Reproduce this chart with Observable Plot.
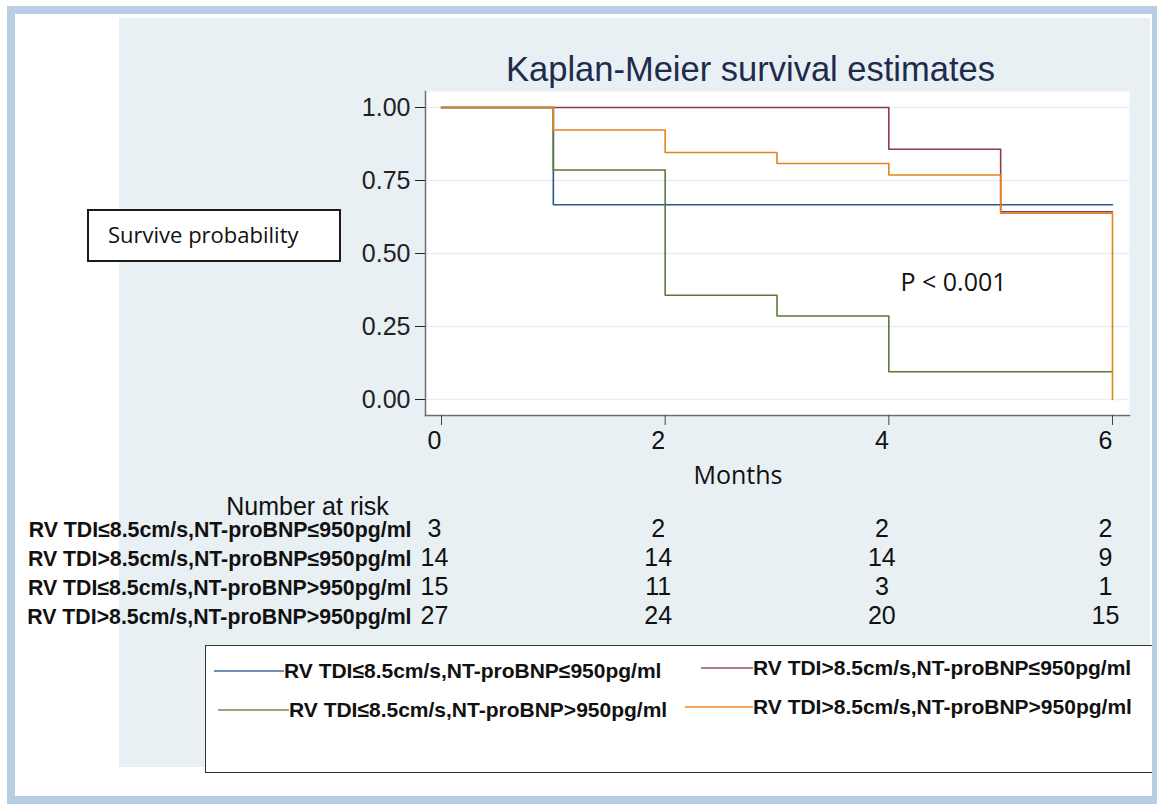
<!DOCTYPE html>
<html><head><meta charset="utf-8">
<script src="https://cdn.jsdelivr.net/npm/d3@7"></script>
<script src="https://cdn.jsdelivr.net/npm/@observablehq/plot@0.6"></script>
<style>
html,body{margin:0;padding:0;background:#fff;}
#page{position:relative;width:1157px;height:805px;overflow:hidden;font-family:"Liberation Sans",Arial,sans-serif;}
#panel{position:absolute;left:119px;top:18px;width:1031px;height:749px;background:#e8f0f3;}
#chart{position:absolute;left:0;top:0;}
#ybox{position:absolute;left:87px;top:209px;width:254px;height:53px;box-sizing:border-box;border:2px solid #1a1a1a;background:#fff;font-family:"Open Sans",sans-serif;font-size:22px;line-height:47px;padding-left:19px;color:#111;}
#legend{position:absolute;left:205px;top:645px;width:960px;height:128px;background:#fff;border:1.5px solid #333;box-sizing:border-box;}
.li{position:absolute;font-weight:bold;font-size:21px;color:#111;white-space:nowrap;line-height:24px;}
.sw{position:absolute;height:2px;}
#border{position:absolute;left:7px;top:6px;width:1153px;height:798px;border:8px solid #b9cde4;box-sizing:border-box;}
</style></head>
<body><div id="page">
<div id="panel"></div>
<div id="chart"></div>
<div id="ybox">Survive probability</div>
<div id="legend"></div>
<div id="border"></div>
</div>
<script>
// ---- data ----
const groups = [
  "RV TDI≤8.5cm/s,NT-proBNP≤950pg/ml",
  "RV TDI>8.5cm/s,NT-proBNP≤950pg/ml",
  "RV TDI≤8.5cm/s,NT-proBNP>950pg/ml",
  "RV TDI>8.5cm/s,NT-proBNP>950pg/ml"
];
const colors = ["#2b5b8c", "#8e3b48", "#5a7b35", "#e8821e"];
const time1 = [0, 1, 6];
const surv1 = [1, 0.667, 0.667];
const time2 = [0, 4, 5, 6];
const surv2 = [1, 0.857, 0.643, 0.643];
const time3 = [0, 1, 2, 3, 4, 6];
const surv3 = [1, 0.786, 0.357, 0.286, 0.095, 0.095];
const time4 = [0, 1, 2, 3, 4, 5, 6, 6];
const surv4 = [1, 0.923, 0.846, 0.808, 0.769, 0.638, 0.638, 0];
const riskTimes = [0, 2, 4, 6];
const risk1 = [3, 2, 2, 2];
const risk2 = [14, 14, 14, 9];
const risk3 = [15, 11, 3, 1];
const risk4 = [27, 24, 20, 15];
const xTicks = [0, 2, 4, 6];
const yTicks = [0, 0.25, 0.5, 0.75, 1];
const title = "Kaplan-Meier survival estimates";
const xLabel = "Months";
const pText = "P < 0.001";
const riskTitle = "Number at risk";

// ---- build tables ----
const times = [time1, time2, time3, time4];
const survs = [surv1, surv2, surv3, surv4];
const risks = [risk1, risk2, risk3, risk4];
const curves = groups.flatMap((g, i) => times[i].map((t, j) => ({group: g, time: t, surv: survs[i][j]})));

const W = 1157, H = 805, L = 425, R = 1129, T = 91, B = 415;
const rowY = [536, 565, 594, 623];
const note = (s, x, y, o = {}) => Plot.text([s], {text: d => d, frameAnchor: "top-left", dx: x - L, dy: y - T, lineAnchor: "bottom", ...o});

const riskMarks = risks.flatMap((r, i) => {
  const rows = riskTimes.map((t, j) => ({time: t, n: r[j]}));
  return [
    Plot.text(rows, {x: "time", text: d => String(d.n), frameAnchor: "bottom", dy: rowY[i] - B, dx: -7, fontSize: 25, fill: "#111"}),
    Plot.text([groups[i]], {text: d => d, frameAnchor: "bottom-left", dx: -14, dy: rowY[i] - B, textAnchor: "end", fontWeight: "bold", fontSize: 21.3, fill: "#111"})
  ];
});

const chart = Plot.plot({
  width: W, height: H,
  marginLeft: L, marginRight: W - R, marginTop: T, marginBottom: H - B,
  style: {background: "transparent", fontFamily: "Liberation Sans, Arial, sans-serif", overflow: "visible"},
  x: {domain: [0, 6], insetLeft: 16, insetRight: 17},
  y: {domain: [0, 1], insetTop: 16, insetBottom: 16},
  color: {domain: groups, range: colors},
  marks: [
    Plot.frame({fill: "white", stroke: null}),
    Plot.gridY(yTicks, {stroke: "#e6eff1", strokeOpacity: 1, strokeWidth: 1.5}),
    Plot.frame({anchor: "left", stroke: "#6e6e6e", strokeWidth: 1.5}),
    Plot.frame({anchor: "bottom", stroke: "#6e6e6e", strokeWidth: 1.5}),
    Plot.axisY(yTicks, {tickSize: 10, tickPadding: 5, tickFormat: d3.format(".2f"), fontSize: 25, color: "#222", label: null}),
    Plot.axisX(xTicks, {tickSize: 10, tickFormat: () => "", color: "#444", label: null}),
    Plot.text(xTicks, {x: d => d, text: d => String(d), frameAnchor: "bottom", dy: 33, dx: -7, fontSize: 25, fill: "#111"}),
    Plot.line(curves, {x: "time", y: "surv", z: "group", stroke: "group", curve: "step-after", strokeWidth: 1.6}),
    note(title, 750, 80, {textAnchor: "middle", fontSize: 34.5, fill: "#1e2b4c"}),
    note(xLabel, 693, 483, {textAnchor: "start", fontSize: 25, fontFamily: "Open Sans", fill: "#111"}),
    note(pText, 900, 290, {textAnchor: "start", fontSize: 25, fontFamily: "Open Sans", fill: "#111"}),
    note(riskTitle, 307, 514, {textAnchor: "middle", fontSize: 25, fill: "#111"}),
    ...riskMarks
  ]
});
document.getElementById("chart").appendChild(chart);

// ---- legend ----
const legendItems = [
  {i: 0, lx: 213, lw: 70, tx: 283, y: 670},
  {i: 1, lx: 700, lw: 52, tx: 752, y: 667},
  {i: 2, lx: 217, lw: 71, tx: 288, y: 709},
  {i: 3, lx: 684, lw: 68, tx: 752, y: 706}
];
const leg = document.getElementById("legend");
const lightColors = ["#6f8fb3", "#b47c84", "#93a97a", "#f0a65a"];
legendItems.forEach(it => {
  const sw = document.createElement("div");
  sw.className = "sw";
  sw.style.left = (it.lx - 205) + "px";
  sw.style.width = it.lw + "px";
  sw.style.top = (it.y - 645 - 1) + "px";
  sw.style.background = lightColors[it.i];
  leg.appendChild(sw);
  const t = document.createElement("div");
  t.className = "li";
  t.textContent = groups[it.i];
  t.style.left = (it.tx - 205) + "px";
  t.style.top = (it.y - 645 - 12) + "px";
  leg.appendChild(t);
});
</script>
</body></html>
